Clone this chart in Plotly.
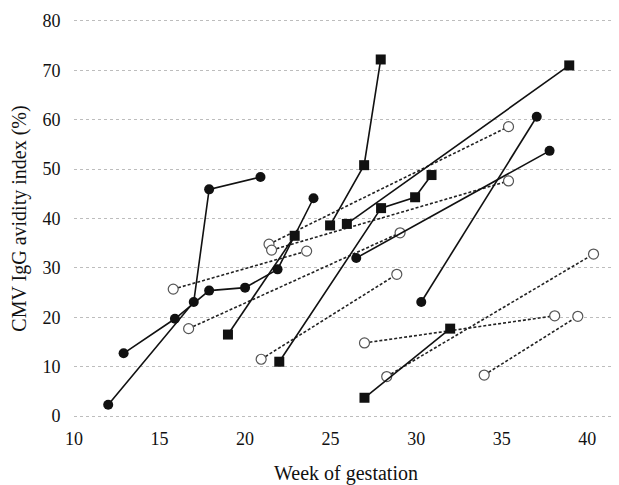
import plotly.graph_objects as go

# Filled circles (solid lines)
c1_x = [12, 17, 17.9, 20.9]
c1_y = [2.3, 23.1, 45.9, 48.4]
c2_x = [12.9, 15.9, 17.9, 20.0, 21.9, 24.0]
c2_y = [12.7, 19.7, 25.4, 26.0, 29.7, 44.1]
c3_x = [26.5, 37.8]
c3_y = [32.0, 53.7]
c4_x = [30.3, 37.05]
c4_y = [23.1, 60.6]

# Filled squares (solid lines)
s1_x = [19.0, 22.9]
s1_y = [16.5, 36.5]
s2_x = [22.0, 27.95, 29.94, 30.9]
s2_y = [11.0, 42.1, 44.3, 48.8]
s3_x = [25.95, 38.95]
s3_y = [38.9, 71.0]
s4_x = [24.97, 26.96, 27.93]
s4_y = [38.6, 50.8, 72.2]
s5_x = [26.98, 31.99]
s5_y = [3.7, 17.7]

# Open circles (dashed lines)
o1_x = [15.8, 23.6]
o1_y = [25.7, 33.4]
o2_x = [16.7, 29.06]
o2_y = [17.7, 37.1]
o3_x = [21.4, 35.4]
o3_y = [34.8, 58.6]
o4_x = [21.55, 35.4]
o4_y = [33.6, 47.6]
o5_x = [20.94, 28.87]
o5_y = [11.5, 28.7]
o6_x = [26.98, 38.1]
o6_y = [14.8, 20.3]
o7_x = [28.28, 40.37]
o7_y = [8.0, 32.8]
o8_x = [33.98, 39.45]
o8_y = [8.3, 20.2]

x_ticks = [10, 15, 20, 25, 30, 35, 40]
y_ticks = [0, 10, 20, 30, 40, 50, 60, 70, 80]

fig = go.Figure()

dashed = [(o1_x, o1_y), (o2_x, o2_y), (o3_x, o3_y), (o4_x, o4_y),
          (o5_x, o5_y), (o6_x, o6_y), (o7_x, o7_y), (o8_x, o8_y)]
circles = [(c1_x, c1_y), (c2_x, c2_y), (c3_x, c3_y), (c4_x, c4_y)]
squares = [(s1_x, s1_y), (s2_x, s2_y), (s3_x, s3_y), (s4_x, s4_y), (s5_x, s5_y)]

for xs, ys in dashed:
    fig.add_trace(go.Scatter(
        x=xs, y=ys, mode="lines+markers",
        line=dict(color="#222222", width=1.6, dash="3px,2px"),
        marker=dict(symbol="circle", size=10, color="white",
                    line=dict(color="#555555", width=1.2)),
        showlegend=False, hoverinfo="skip"))

for xs, ys in circles:
    fig.add_trace(go.Scatter(
        x=xs, y=ys, mode="lines+markers",
        line=dict(color="#111111", width=1.6),
        marker=dict(symbol="circle", size=10, color="#111111"),
        showlegend=False, hoverinfo="skip"))

for xs, ys in squares:
    fig.add_trace(go.Scatter(
        x=xs, y=ys, mode="lines+markers",
        line=dict(color="#111111", width=1.6),
        marker=dict(symbol="square", size=10, color="#111111"),
        showlegend=False, hoverinfo="skip"))

font_family = "Liberation Serif, Times New Roman, serif"

fig.update_layout(
    width=611, height=477,
    margin=dict(l=66, r=1, t=10, b=66, autoexpand=False),
    paper_bgcolor="white", plot_bgcolor="white",
    font=dict(family=font_family, size=18, color="#111111"),
    xaxis=dict(
        range=[10, 41.8], tickvals=x_ticks, showgrid=False, zeroline=False,
        showline=False, ticks="outside", ticklen=3, tickcolor="rgba(0,0,0,0)",
        tickfont=dict(size=18), automargin=False,
        title=dict(text="Week of gestation", font=dict(size=20), standoff=20),
    ),
    yaxis=dict(
        range=[-0.6, 80.6], tickvals=y_ticks, showgrid=True,
        gridcolor="#bdbdbd", griddash="dot", gridwidth=1, zeroline=False,
        showline=False, ticks="outside", ticklen=9, tickcolor="rgba(0,0,0,0)",
        tickfont=dict(size=18), automargin=False,
        title=dict(text="CMV IgG avidity index (%)", font=dict(size=20), standoff=10),
    ),
)

fig.write_html("out.html")
